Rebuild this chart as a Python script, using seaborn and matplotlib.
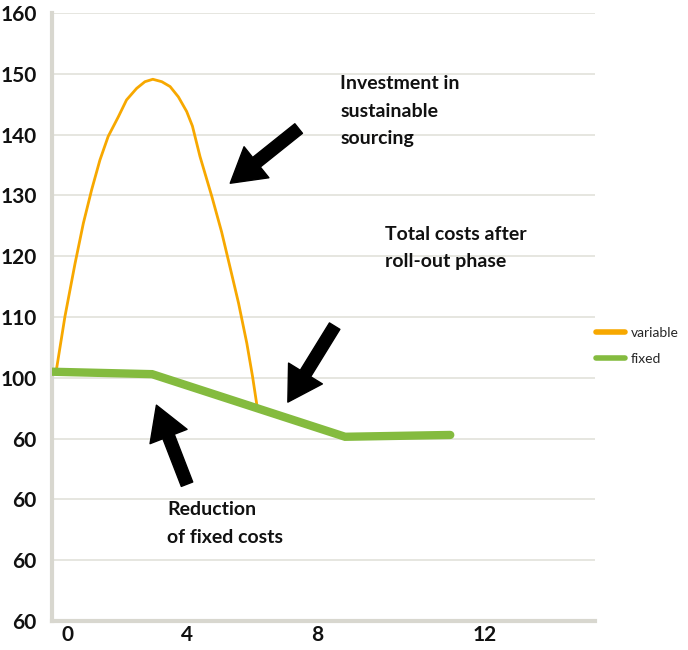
import pandas as pd
import matplotlib.pyplot as plt
import seaborn as sns

# ---- data (x in months, y in tick-step units: 0 = bottom gridline) ----
var_x = [0.13, 0.36, 0.64, 0.87, 1.10, 1.33, 1.56, 1.84, 2.07, 2.35, 2.58, 2.80, 3.05,
         3.28, 3.51, 3.74, 3.90, 4.11, 4.44, 4.71, 4.94, 5.18, 5.41, 5.57, 5.69]
var_y = [4.16, 5.01, 5.88, 6.54, 7.09, 7.58, 7.97, 8.29, 8.57, 8.76, 8.87, 8.91, 8.87,
         8.79, 8.62, 8.38, 8.14, 7.64, 6.98, 6.40, 5.83, 5.23, 4.57, 4.02, 3.55]
fix_x = [0.0, 2.78, 8.14, 11.06]
fix_y = [4.10, 4.06, 3.03, 3.06]

y_labels = ["60", "60", "60", "60", "100", "110", "120", "130", "140", "150", "160"]
x_labels = ["0", "4", "8", "12"]
x_label_pos = [0.42, 3.75, 7.36, 12.03]

df_var = pd.DataFrame({"x": var_x, "y": var_y})
df_fix = pd.DataFrame({"x": fix_x, "y": fix_y})

sns.set_style("white")
plt.rcParams["font.family"] = ["Lato", "DejaVu Sans"]

fig = plt.figure(figsize=(6.88, 6.5), dpi=100)
ax = fig.add_axes([52 / 688, 29 / 650, 543 / 688, 608 / 650])

orange = "#f7a800"
green = "#84bb3f"
grid = "#e2e1da"

sns.lineplot(data=df_fix, x="x", y="y", color=green, linewidth=6, ax=ax, label="fixed",
             zorder=3, solid_joinstyle="miter")
sns.lineplot(data=df_var, x="x", y="y", color=orange, linewidth=2, ax=ax, label="variable",
             zorder=2, solid_joinstyle="round")

ax.set_xlim(0, 15.08)
ax.set_ylim(0, 10)
ax.set_yticks(range(11))
ax.set_yticklabels(y_labels)
ax.set_xticks(x_label_pos)
ax.set_xticklabels(x_labels)
ax.set_xlabel("")
ax.set_ylabel("")
ax.yaxis.grid(True, color=grid, linewidth=1.2)
ax.tick_params(axis="both", length=0, labelsize=15, colors="#111111")
ax.tick_params(axis="y", pad=11)
ax.tick_params(axis="x", pad=3)
for lab in ax.get_xticklabels() + ax.get_yticklabels():
    lab.set_fontweight("bold")

for s in ["top", "right"]:
    ax.spines[s].set_visible(False)
for s in ["left", "bottom"]:
    ax.spines[s].set_color("#d8d7cf")
    ax.spines[s].set_linewidth(3)

# legend (orange first)
handles, labels = ax.get_legend_handles_labels()
leg = ax.legend([handles[1], handles[0]], [labels[1], labels[0]],
                loc="center left", bbox_to_anchor=(0.978, 0.452), frameon=False,
                fontsize=10, handlelength=2.1, handletextpad=0.45, labelspacing=1.0)
for h in leg.get_lines():
    h.set_linewidth(4)

# annotations
txt = dict(fontsize=14, fontweight="bold", color="#111111", va="top", ha="left", linespacing=1.75)
ax.text(8.0, 8.98, "Investment in\nsustainable\nsourcing", **txt)
ax.text(9.25, 6.5, "Total costs after\nroll-out phase", **txt)
ax.text(3.2, 1.97, "Reduction\nof fixed costs", **txt)

arrow = dict(arrowstyle="simple,head_length=1.1,head_width=1.3,tail_width=0.4",
             color="black", mutation_scale=22, shrinkA=0, shrinkB=0)
ax.annotate("", xy=(4.95, 7.2), xytext=(6.85, 8.1), arrowprops=arrow)
ax.annotate("", xy=(6.55, 3.6), xytext=(7.85, 4.85), arrowprops=arrow)
ax.annotate("", xy=(2.9, 3.55), xytext=(3.75, 2.25), arrowprops=arrow)

fig.savefig("out.png", dpi=100)
